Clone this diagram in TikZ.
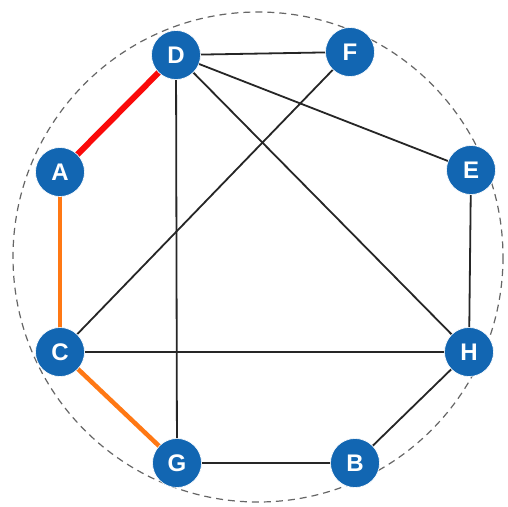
\documentclass[tikz,border=0pt]{standalone}
\usepackage{fontspec}
\setmainfont{Liberation Sans}
\usetikzlibrary{backgrounds}
\definecolor{nodeblue}{RGB}{18,102,178}
\definecolor{redline}{RGB}{250,10,10}
\definecolor{orangeline}{RGB}{255,120,20}
\begin{document}
\begin{tikzpicture}[x=1pt,y=-1pt,
  vert/.style={circle,fill=nodeblue,draw=white,line width=0.6pt,minimum size=49pt,inner sep=0pt,text=white,font=\fontsize{24}{24}\selectfont\bfseries},
  edge/.style={draw=black!85,line width=1.8pt},
  rededge/.style={draw=redline,line width=6pt},
  orangeedge/.style={draw=orangeline,line width=4.5pt}]
\useasboundingbox (0,0) rectangle (508,506);
\node[vert] (D) at (176,55) {D};
\node[vert] (F) at (350,52) {F};
\node[vert] (A) at (60,172) {A};
\node[vert] (E) at (471,170) {E};
\node[vert] (C) at (60,352) {C};
\node[vert] (H) at (469,352) {H};
\node[vert] (G) at (177,463) {G};
\node[vert] (B) at (355,463) {B};
\begin{scope}[on background layer]
\fill[white] (0,0) rectangle (508,506);
\draw[gray!80!black,line width=1.2pt,dash pattern=on 7pt off 5pt] (258,257) circle (245);
\draw[edge] (D.center) -- (F.center);
\draw[edge] (D.center) -- (G.center);
\draw[edge] (D.center) -- (E.center);
\draw[edge] (D.center) -- (H.center);
\draw[edge] (F.center) -- (C.center);
\draw[edge] (E.center) -- (H.center);
\draw[edge] (C.center) -- (H.center);
\draw[edge] (G.center) -- (B.center);
\draw[edge] (B.center) -- (H.center);
\draw[rededge] (D.center) -- (A.center);
\draw[orangeedge] (A.center) -- (C.center);
\draw[orangeedge] (C.center) -- (G.center);
\end{scope}
\end{tikzpicture}
\end{document}
